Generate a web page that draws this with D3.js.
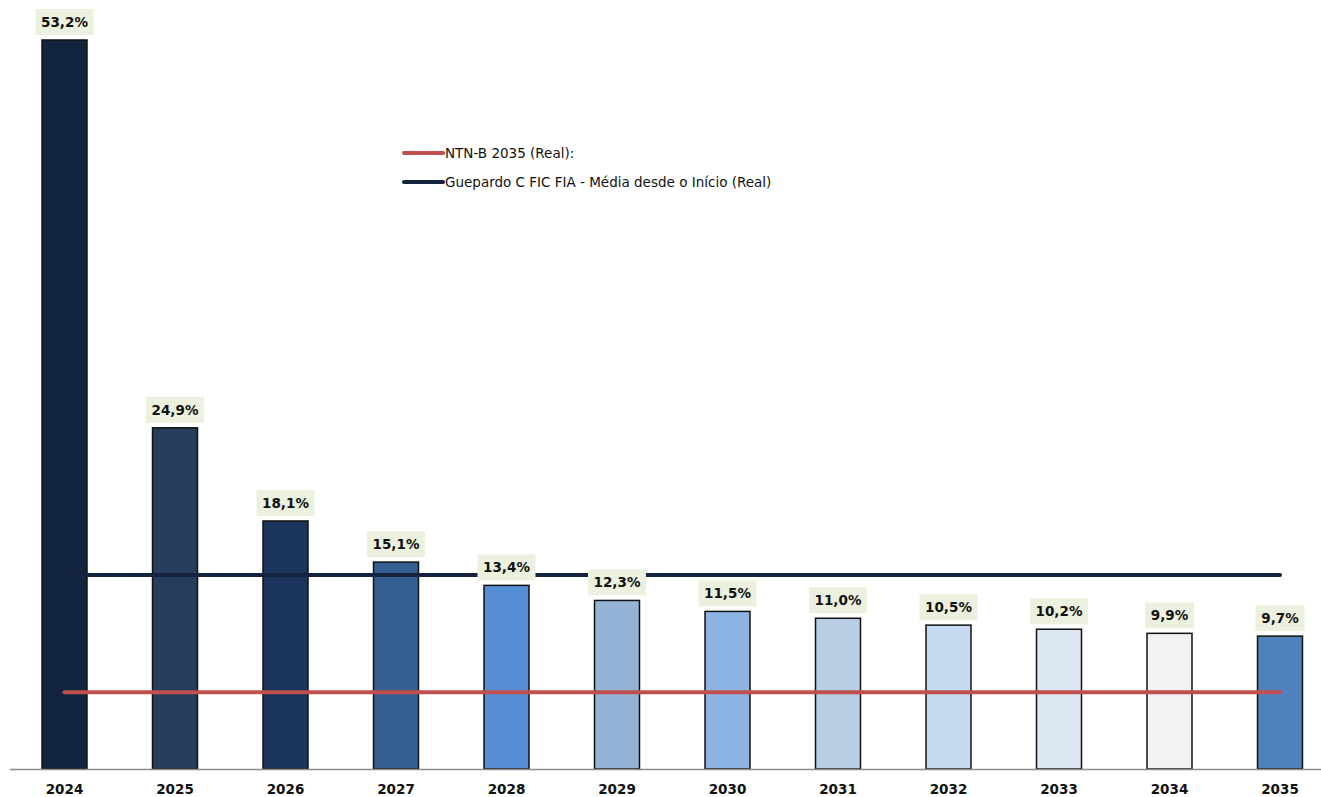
<!DOCTYPE html>
<html>
<head>
<meta charset="utf-8">
<script src="https://cdn.jsdelivr.net/npm/d3@7"></script>
<style>
  body { margin: 0; background: #fff; }
</style>
</head>
<body>
<div id="chart"></div>
<script>
var years = ["2024","2025","2026","2027","2028","2029","2030","2031","2032","2033","2034","2035"]
var values = [53.2, 24.9, 18.1, 15.1, 13.4, 12.3, 11.5, 11.0, 10.5, 10.2, 9.9, 9.7]
var barColors = ["#13243f","#263d5e","#1b355c","#355f91","#558ed5","#95b3d7","#8eb4e3","#b9cde5","#c6d9f1","#dce6f2","#f2f2f2","#4f81bd"]
var refNames = ["NTN-B 2035 (Real):", "Guepardo C FIC FIA - Média desde o Início (Real)"]
var refValues = [5.6, 14.15]
var refColors = ["#c0504d", "#14243f"]

var W = 1321, H = 797
var margin = {top: 40, right: 10, bottom: 28, left: 10}
var width = W - margin.left - margin.right,
    height = H - margin.top - margin.bottom

var svg = d3.select("#chart").append("svg")
    .attr("width", W)
    .attr("height", H)
  .append("g")
    .attr("transform", "translate(" + margin.left + "," + margin.top + ")")

// step ~110.5px, bar width ~45px
var x = d3.scaleBand()
    .domain(years)
    .range([-0.75, 1325.25])
    .paddingInner(0.593)
    .paddingOuter(0.2965)

var y = d3.scaleLinear()
    .domain([0, 53.2])
    .range([height, 0])

var fmt = function(v) { return d3.format(".1f")(v).replace(".", ",") + "%" }

// bars
svg.selectAll("rect.bar")
    .data(values)
    .enter()
    .append("rect")
    .attr("class", "bar")
    .attr("x", function(d, i) { return x(years[i]) })
    .attr("y", function(d) { return y(d) })
    .attr("width", x.bandwidth())
    .attr("height", function(d) { return height - y(d) })
    .attr("fill", function(d, i) { return barColors[i] })
    .attr("stroke", "#111")
    .attr("stroke-width", 1.5)

// axis line
svg.append("line")
    .attr("x1", 0).attr("x2", width + margin.right)
    .attr("y1", height + 0.5).attr("y2", height + 0.5)
    .attr("stroke", "#8c8c8c")
    .attr("stroke-width", 1.5)

// reference lines
var first = x(years[0]) + x.bandwidth() / 2,
    last = x(years[years.length - 1]) + x.bandwidth() / 2
refValues.forEach(function(v, i) {
    svg.append("line")
        .attr("x1", first).attr("x2", last)
        .attr("y1", y(v)).attr("y2", y(v))
        .attr("stroke", refColors[i])
        .attr("stroke-width", 4)
        .attr("stroke-linecap", "round")
})

// value labels with boxes
var labels = svg.selectAll("g.lbl")
    .data(values)
    .enter()
    .append("g")
    .attr("class", "lbl")
    .attr("transform", function(d, i) {
        return "translate(" + (x(years[i]) + x.bandwidth() / 2) + "," + (y(d) - 5) + ")"
    })
labels.append("rect")
    .attr("x", function(d) { return d < 10 ? -24.5 : -29 })
    .attr("y", -26)
    .attr("width", function(d) { return d < 10 ? 49 : 58 })
    .attr("height", 26)
    .attr("fill", "#ebf1de")
labels.append("text")
    .attr("text-anchor", "middle")
    .attr("y", -8)
    .style("font-family", "DejaVu Sans")
    .style("font-weight", "bold")
    .style("font-size", "13.5px")
    .attr("fill", "#111")
    .text(function(d) { return fmt(d) })

// x axis labels
svg.selectAll("text.year")
    .data(years)
    .enter()
    .append("text")
    .attr("class", "year")
    .attr("x", function(d) { return x(d) + x.bandwidth() / 2 })
    .attr("y", height + 25)
    .attr("text-anchor", "middle")
    .style("font-family", "DejaVu Sans")
    .style("font-weight", "bold")
    .style("font-size", "13.5px")
    .attr("fill", "#111")
    .text(function(d) { return d })

// legend
var legend = svg.append("g")
    .attr("transform", "translate(" + (404 - margin.left) + "," + (153 - margin.top) + ")")
refNames.forEach(function(name, i) {
    var g = legend.append("g").attr("transform", "translate(0," + (i * 29) + ")")
    g.append("line")
        .attr("x1", 0).attr("x2", 39)
        .attr("y1", 0).attr("y2", 0)
        .attr("stroke", refColors[i])
        .attr("stroke-width", 4)
        .attr("stroke-linecap", "round")
    g.append("text")
        .attr("x", 41)
        .attr("y", 5)
        .style("font-family", "DejaVu Sans")
        .style("font-size", "13.5px")
        .attr("fill", "#111")
        .text(name)
})
</script>
</body>
</html>
